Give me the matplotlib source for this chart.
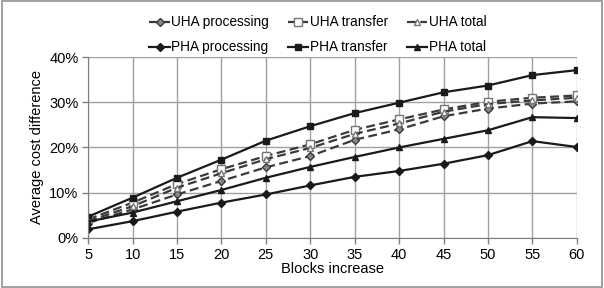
import matplotlib
matplotlib.use("Agg")
import matplotlib.pyplot as plt
from matplotlib.patches import Rectangle

plt.rcParams['font.family'] = ['Liberation Sans', 'DejaVu Sans']

blocks = [5, 10, 15, 20, 25, 30, 35, 40, 45, 50, 55, 60]

uha_processing = [3.3, 6.3, 9.6, 12.6, 15.6, 18.1, 21.7, 24.0, 26.9, 28.6, 29.7, 30.2]
uha_transfer = [4.1, 7.8, 11.9, 15.2, 18.1, 20.7, 23.9, 26.2, 28.4, 30.1, 31.0, 31.5]
uha_total = [3.7, 7.0, 11.1, 14.3, 17.4, 19.9, 23.0, 25.3, 27.9, 29.6, 30.4, 31.0]

pha_processing = [1.9, 3.7, 5.8, 7.8, 9.6, 11.6, 13.5, 14.8, 16.4, 18.3, 21.4, 20.1]
pha_transfer = [4.7, 8.9, 13.3, 17.3, 21.5, 24.7, 27.6, 29.9, 32.2, 33.7, 36.0, 37.1]
pha_total = [3.6, 5.6, 8.1, 10.6, 13.3, 15.7, 17.9, 20.0, 21.9, 23.8, 26.7, 26.5]

fig = plt.figure(figsize=(6.04, 2.88), dpi=100)
ax = fig.add_axes([0.146, 0.174, 0.809, 0.628])

x = list(range(len(blocks)))
dash = '#3a3a3a'
solid = '#1a1a1a'

ax.plot(x, uha_processing, color=dash, ls=(0, (4, 2)), lw=1.6, marker='D', ms=4,
        mfc='#888888', mec=dash, label='UHA processing')
ax.plot(x, pha_processing, color=solid, lw=1.6, marker='D', ms=4,
        mfc=solid, mec=solid, label='PHA processing')
ax.plot(x, uha_transfer, color=dash, ls=(0, (4, 2)), lw=1.6, marker='s', ms=6,
        mfc='white', mec='#777777', label='UHA transfer')
ax.plot(x, pha_transfer, color=solid, lw=1.6, marker='s', ms=5,
        mfc=solid, mec=solid, label='PHA transfer')
ax.plot(x, uha_total, color=dash, ls=(0, (4, 2)), lw=1.6, marker='^', ms=5,
        mfc='white', mec='#777777', label='UHA total')
ax.plot(x, pha_total, color=solid, lw=1.6, marker='^', ms=5,
        mfc=solid, mec=solid, label='PHA total')

ax.set_xlim(0, len(blocks) - 1)
ax.set_ylim(0, 40)
ax.set_xticks(x)
ax.set_xticklabels([str(b) for b in blocks])
ax.set_yticks([0, 10, 20, 30, 40])
ax.set_yticklabels(['0%', '10%', '20%', '30%', '40%'])
ax.grid(True, color='#a0a0a0', lw=1)
ax.set_axisbelow(True)
for s in ['top', 'right']:
    ax.spines[s].set_visible(False)
for s in ['left', 'bottom']:
    ax.spines[s].set_color('#808080')
ax.tick_params(axis='both', labelsize=10.5, color='#808080', length=4, width=1, pad=3)
ax.set_xlabel('Blocks increase', fontsize=10.5, labelpad=0)
ax.set_ylabel('Average cost difference', fontsize=10.5, labelpad=4)

ax.legend(loc='lower center', bbox_to_anchor=(0.47, 0.985), ncol=3, frameon=False,
          fontsize=9.8, handlelength=1.5, handletextpad=0.1, columnspacing=1.4,
          labelspacing=0.8, borderaxespad=0)

fig.patches.append(Rectangle((0.003, 0.005), 0.994, 0.99, transform=fig.transFigure,
                             fill=False, ec='#909090', lw=1.2))

fig.savefig('out.png', dpi=100)
